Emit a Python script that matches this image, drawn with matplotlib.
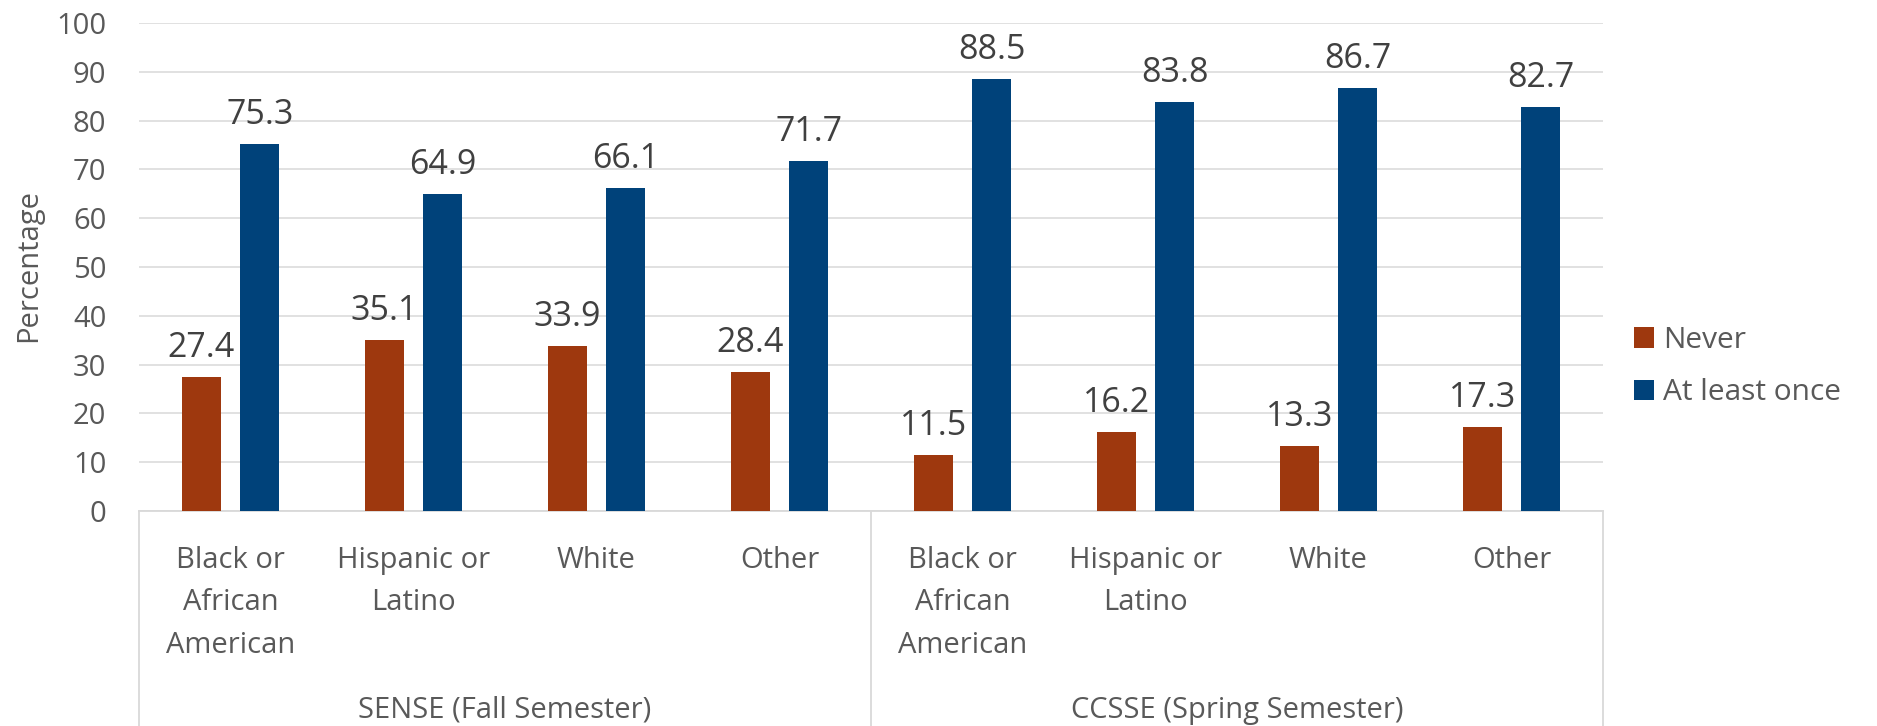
import matplotlib
matplotlib.use("Agg")
import matplotlib.pyplot as plt
from matplotlib.patches import Patch
import numpy as np

plt.rcParams['font.family'] = ['Open Sans', 'DejaVu Sans']

categories = ["Black or\nAfrican\nAmerican", "Hispanic or\nLatino", "White", "Other",
              "Black or\nAfrican\nAmerican", "Hispanic or\nLatino", "White", "Other"]
groups = ["SENSE (Fall Semester)", "CCSSE (Spring Semester)"]
never = [27.4, 35.1, 33.9, 28.4, 11.5, 16.2, 13.3, 17.3]
at_least_once = [75.3, 64.9, 66.1, 71.7, 88.5, 83.8, 86.7, 82.7]
series_names = ["Never", "At least once"]
yticks = [0, 10, 20, 30, 40, 50, 60, 70, 80, 90, 100]

C_NEVER = "#9E380E"
C_ONCE = "#00427A"
GRID = "#D9D9D9"
TXT = "#595959"
LBL = "#404040"

W, H = 1877, 726
fig = plt.figure(figsize=(W / 100, H / 100), dpi=100)
ax = fig.add_axes([139 / W, 215 / H, 1464 / W, 488 / H])

x = np.arange(len(categories))
bw = 0.213
off = 0.16
b1 = ax.bar(x - off, never, bw, color=C_NEVER, zorder=3)
b2 = ax.bar(x + off, at_least_once, bw, color=C_ONCE, zorder=3)

for bars, vals in ((b1, never), (b2, at_least_once)):
    for rect, v in zip(bars, vals):
        ax.annotate(f"{v:.1f}", (rect.get_x() + rect.get_width() / 2, v),
                    xytext=(0, 14.4), textcoords="offset points",
                    ha="center", va="baseline", fontsize=24.5, color=LBL)

ax.set_xlim(-0.5, len(categories) - 0.5)
ax.set_ylim(0, 100)
ax.set_yticks(yticks)
ax.set_yticklabels([str(t) for t in yticks], fontsize=21, color=TXT)
ax.tick_params(axis="y", length=0, pad=23.5)
ax.yaxis.grid(True, color=GRID, linewidth=1.1)
ax.set_axisbelow(True)

ax.set_xticks(x)
ax.set_xticklabels(categories, fontsize=21, color=TXT, linespacing=1.62)
ax.tick_params(axis="x", length=0, pad=25)

for s in ("top", "right", "left"):
    ax.spines[s].set_visible(False)
ax.spines["bottom"].set_color(GRID)
ax.spines["bottom"].set_linewidth(1.3)

# group separators in the label area
ybot = -(H - 511) / 488
for xs in (-0.5, 3.5, 7.5):
    ax.plot([xs, xs], [0, ybot], transform=ax.get_xaxis_transform(),
            color=GRID, linewidth=1.3, clip_on=False)

for gi, g in enumerate(groups):
    ax.text(gi * 4 + 1.5, -(718 - 511) / 488, g, transform=ax.get_xaxis_transform(),
            fontsize=21, color=TXT, ha="center", va="baseline")

fig.text(29 / W, 1 - 266 / H, "Percentage", rotation=90, ha="center", va="center",
         fontsize=21, color=TXT)

handles = [Patch(facecolor=C_NEVER), Patch(facecolor=C_ONCE)]
leg = fig.legend(handles, series_names, loc="upper left",
                 bbox_to_anchor=(1634 / W, 1 - 326 / H), frameon=False,
                 fontsize=21.5, handlelength=0.66, handleheight=0.66,
                 handletextpad=0.3, labelspacing=0.78, borderpad=0, borderaxespad=0)
for t in leg.get_texts():
    t.set_color(TXT)

fig.savefig("out.png", dpi=100)
